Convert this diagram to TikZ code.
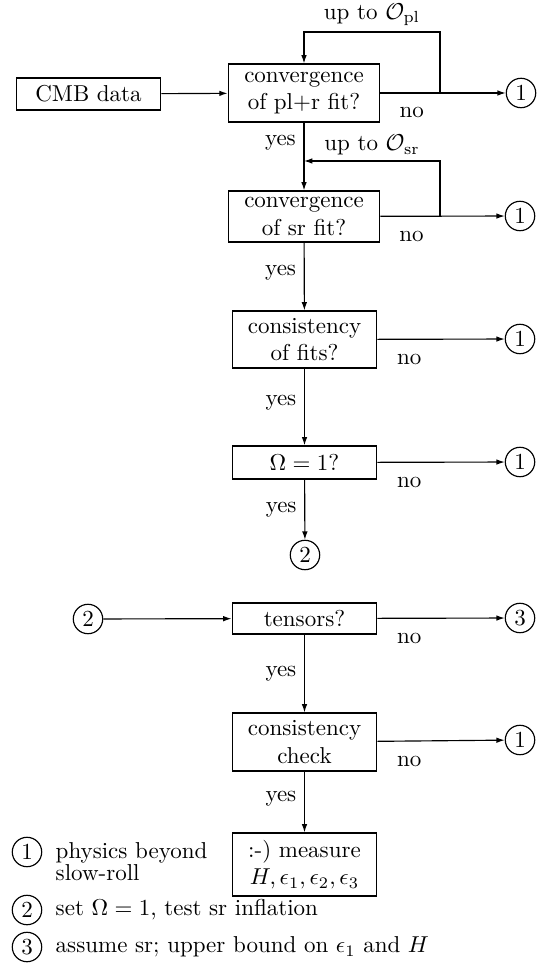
\documentclass[tikz,border=0pt]{standalone}
\usetikzlibrary{arrows.meta}
\begin{document}
\begin{tikzpicture}[x=0.435pt, y=-0.435pt, line width=0.5pt,
    >={Latex[length=3.6pt,width=2.4pt]},
    box/.style={draw, align=center, inner sep=2pt, minimum width=63pt},
    num/.style={draw, circle, inner sep=1pt, minimum size=12.8pt},
    nolabel/.style={below=2.8pt, pos=0.25},
    yeslabel/.style={left, pos=0.45},
    uplabel/.style={above=1.3pt, inner sep=1pt, pos=0.75}]
  \useasboundingbox (0,0) rectangle (547,971);
  \node[box, minimum height=13.9pt] (cmb) at (88.5,94) {CMB data};
  \node[box, minimum width=66pt, minimum height=25.2pt] (fit1) at (304,93) {convergence\\of pl+r fit?};
  \node[num] (out1) at (521,93) {1};
  \node[box, minimum width=66pt, minimum height=22.2pt] (fit2) at (304,216.5) {convergence\\of sr fit?};
  \node[num] (out2) at (520,216) {1};
  \node[box, minimum height=24.8pt] (cons) at (304.5,339.5) {consistency\\of fits?};
  \node[num] (out3) at (520,339) {1};
  \node[box, minimum height=14.4pt] (omega) at (304.5,462.5) {$\Omega = 1$?};
  \node[num] (out4) at (520,462) {1};
  \node[num] (sr1) at (305,555) {2};
  \node[num] (sr2) at (88,619) {2};
  \node[box, minimum height=13.5pt] (tens) at (304.5,618.5) {tensors?};
  \node[num] (out5) at (520,618) {3};
  \node[box, minimum height=25.2pt] (check) at (304.5,742) {consistency\\check};
  \node[num] (out6) at (520,740) {1};
  \node[box, minimum height=27.4pt] (meas) at (304.5,864.5) {:-) measure\\$H, \epsilon_1, \epsilon_2, \epsilon_3$};
  \coordinate (loop1) at (440,93);
  \coordinate (top1) at (304,32);
  \coordinate (loop2) at (440,216);
  \coordinate (join2) at (304,161);
  \path[->] (cmb) edge (fit1);
  \path[->] (fit1) edge node[nolabel] {no} (out1);
  \path[->] (fit1) edge node[yeslabel, pos=0.3] {yes} (fit2);
  \path[->] (fit2) edge node[nolabel] {no} (out2);
  \path[->] (fit2) edge node[yeslabel] {yes} (cons);
  \path[->] (cons) edge node[nolabel] {no} (out3);
  \path[->] (cons) edge node[yeslabel] {yes} (omega);
  \path[->] (omega) edge node[nolabel] {no} (out4);
  \path[->] (omega) edge node[yeslabel, pos=0.5] {yes} (sr1);
  \draw[->] (loop1) |- node[uplabel] {up to $\mathcal{O}_{\mathrm{pl}}$} (top1) -- (fit1);
  \draw[->] (loop2) |- node[uplabel] {up to $\mathcal{O}_{\mathrm{sr}}$} (join2);
  \path[->] (sr2) edge (tens);
  \path[->] (tens) edge node[nolabel] {no} (out5);
  \path[->] (tens) edge node[yeslabel, pos=0.5] {yes} (check);
  \path[->] (check) edge node[nolabel] {no} (out6);
  \path[->] (check) edge node[yeslabel] {yes} (meas);
  % key to the circled numbers
  \node[num] (key1) at (27,852) {1};
  \node[anchor=west, align=left] (txt1) at (47.5,862) {physics beyond\\[-2.5pt]slow-roll};
  \node[num] (key2) at (27,910) {2};
  \node[anchor=west] (txt2) at (47.5,910) {set $\Omega = 1$, test sr inflation};
  \node[num] (key3) at (27,947) {3};
  \node[anchor=west] (txt3) at (47.5,947) {assume sr; upper bound on $\epsilon_1$ and $H$};
\end{tikzpicture}
\end{document}
